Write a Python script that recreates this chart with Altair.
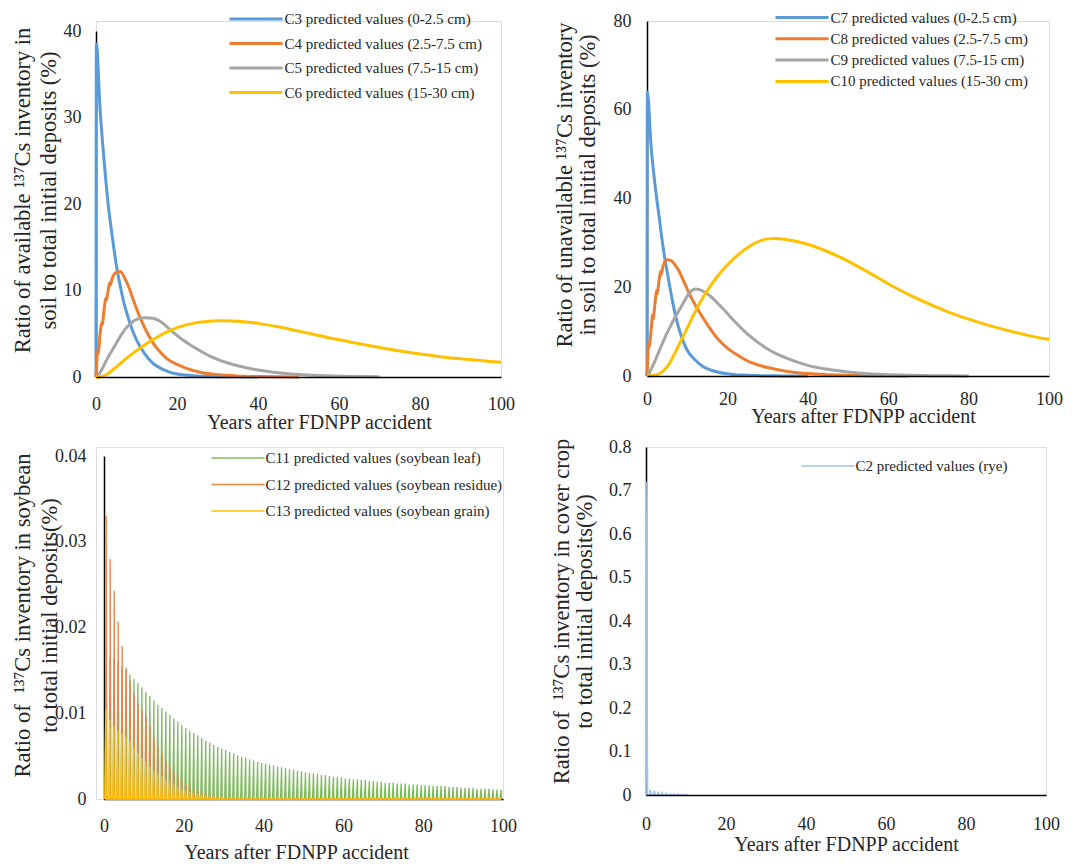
import altair as alt
import pandas as pd

FONT = "Liberation Serif"
TXT = "#262626"

# ---------------- data ----------------
years = [0, 0.1, 1, 2, 3, 4, 5, 6, 7, 8, 9, 10, 12, 14, 16, 18, 20, 22, 24, 26, 28, 30, 32, 35,
         40, 45, 50, 55, 60, 65, 70, 75, 80, 85, 90, 95, 100]

top_left_names = ["C3 predicted values (0-2.5 cm)", "C4 predicted values (2.5-7.5 cm)",
                  "C5 predicted values (7.5-15 cm)", "C6 predicted values (15-30 cm)"]
c3 = [0, 38.5, 31, 25, 20, 16.3, 13, 10.5, 8.4, 6.8, 5.4, 4.3,
      2.7, 1.6, 1.0, 0.6, 0.35, 0.22, 0.14, 0.09, 0.06, 0.04, 0.03, 0.02,
      0.01, None, None, None, None, None, None, None, None, None, None, None, None]
c4 = [0, 0.8, 4.9, 7.8, 10, 11.4, 12.1, 12.2, 11.5, 10.5, 9.2, 7.9,
      5.7, 4.0, 2.8, 1.95, 1.45, 1.05, 0.75, 0.52, 0.37, 0.27, 0.2, 0.12,
      0.05, 0.02, 0.01, None, None, None, None, None, None, None, None, None, None]
c5 = [0, 0, 0.5, 1.4, 2.3, 3.1, 3.9, 4.7, 5.4, 5.95, 6.35, 6.65,
      6.85, 6.8, 6.4, 5.6, 4.8, 4.1, 3.5, 2.95, 2.45, 2.05, 1.7, 1.3,
      0.8, 0.5, 0.3, 0.18, 0.1, 0.05, 0.02, None, None, None, None, None, None]
c6 = [0, 0, 0.02, 0.15, 0.4, 0.75, 1.15, 1.55, 1.95, 2.35, 2.7, 3.05,
      3.7, 4.3, 4.85, 5.3, 5.7, 6.0, 6.2, 6.35, 6.45, 6.5, 6.5, 6.45,
      6.2, 5.8, 5.3, 4.8, 4.3, 3.85, 3.4, 3.0, 2.65, 2.35, 2.1, 1.9, 1.7]
# seasonal ripples on the rising edge of C4 / C8 (half-year points)
ripple_t = [0.4, 0.5, 1.4, 1.5, 2.4, 2.5, 3.4, 3.5]
c4_ripple = [3.0, 2.7, 6.3, 6.0, 9.1, 8.8, 10.9, 10.6]

top_right_names = ["C7 predicted values (0-2.5 cm)", "C8 predicted values (2.5-7.5 cm)",
                   "C9 predicted values (7.5-15 cm)", "C10 predicted values (15-30 cm)"]
c7 = [0, 64, 52, 43, 36, 29, 23.5, 18.5, 14, 10.5, 7.8, 5.8,
      3.6, 2.1, 1.3, 0.8, 0.5, 0.3, 0.2, 0.12, 0.08, 0.05, 0.03, 0.02,
      0.01, None, None, None, None, None, None, None, None, None, None, None, None]
c8 = [0, 2, 10, 16.5, 21.5, 24.8, 26.2, 26, 25, 23.6, 21.6, 19.6,
      16, 13, 10.3, 8, 6.3, 5, 3.9, 3.0, 2.4, 1.9, 1.5, 1.0,
      0.55, 0.3, 0.15, 0.07, 0.03, 0.01, None, None, None, None, None, None, None]
c8_ripple = [7.5, 6.5, 13.8, 12.8, 19.3, 18.4, 23.6, 22.8]
c9 = [0, 0, 1.5, 3.4, 5.6, 7.7, 9.7, 11.5, 13.3, 14.8, 16.4, 18.0,
      19.6, 19.1, 17.8, 16.0, 14.1, 12.1, 10.3, 8.7, 7.3, 6.1, 5.1, 3.9,
      2.4, 1.5, 0.9, 0.5, 0.3, 0.15, 0.08, 0.04, 0.02, None, None, None, None]
c10 = [0, 0, 0.05, 0.2, 0.5, 1.1, 2.1, 3.5, 5.3, 7.1, 9.0, 10.8,
       14.5, 17.8, 20.6, 23.0, 25.0, 26.8, 28.3, 29.5, 30.4, 30.9, 31.0, 30.7,
       29.7, 28.0, 25.9, 23.4, 20.8, 18.4, 16.3, 14.4, 12.8, 11.4, 10.2, 9.1, 8.2]

# yearly peak values of the seasonal spikes (year 0, 1, 2, ...)
soy_names = ["C11 predicted values (soybean leaf)", "C12 predicted values (soybean residue)",
             "C13 predicted values (soybean grain)"]
c11_leaf = [0.0160, 0.0165, 0.0165, 0.0160, 0.0155, 0.0150, 0.0145, 0.0140, 0.0135, 0.0130,
            0.0125, 0.0120, 0.0115, 0.0110, 0.0106, 0.0102, 0.0098, 0.0094, 0.0090, 0.0086,
            0.0083, 0.0080, 0.0077, 0.0074, 0.0071, 0.0068, 0.0066, 0.0063, 0.0061, 0.0059,
            0.0057, 0.0055, 0.0053, 0.0051, 0.0049, 0.0048, 0.0046, 0.0045, 0.0043, 0.0042,
            0.0041, 0.0040, 0.0039, 0.0038, 0.0037, 0.0036, 0.0035, 0.0034, 0.0033, 0.0032,
            0.0031, 0.0030, 0.0030, 0.0029, 0.0028, 0.0028, 0.0027, 0.0026, 0.0026, 0.0025,
            0.0024, 0.0024, 0.0023, 0.0023, 0.0022, 0.0022, 0.0021, 0.0021, 0.0020, 0.0020,
            0.0019, 0.0019, 0.0019, 0.0018, 0.0018, 0.0018, 0.0017, 0.0017, 0.0017, 0.0016,
            0.0016, 0.0016, 0.0015, 0.0015, 0.0015, 0.0015, 0.0014, 0.0014, 0.0014, 0.0013,
            0.0013, 0.0013, 0.0013, 0.0012, 0.0012, 0.0012, 0.0012, 0.0011, 0.0011, 0.0011]
c12_residue = [0.033, 0.028, 0.0243, 0.0207, 0.0178, 0.0153, 0.0138, 0.0124, 0.0112, 0.0104,
               0.0097, 0.0085, 0.0073, 0.0062, 0.0053, 0.0045, 0.0038, 0.0032, 0.0027, 0.0022,
               0.0018, 0.0015, 0.0012, 0.0010, 0.0008, 0.0006, 0.0005, 0.0004, 0.0003, 0.0002,
               0.0001]
c13_grain = [0.0105, 0.0092, 0.0085, 0.0080, 0.0076, 0.0072, 0.0067, 0.0060, 0.0054, 0.0048,
             0.0043, 0.0038, 0.0033, 0.0029, 0.0026, 0.0022, 0.0019, 0.0017, 0.0014, 0.0012,
             0.0010, 0.0008, 0.0007, 0.0006, 0.0005, 0.0004, 0.0003, 0.0002, 0.0001, 0.0001]

rye_names = ["C2 predicted values (rye)"]
c2_rye = [0.72, 0.012, 0.009, 0.007, 0.005, 0.004, 0.003, 0.002, 0.0015, 0.001, 0.0005]

x_ticks = [0, 20, 40, 60, 80, 100]
y_ticks_tl = [0, 10, 20, 30, 40]
y_ticks_tr = [0, 20, 40, 60, 80]
y_ticks_bl = [0, 0.01, 0.02, 0.03, 0.04]
y_ticks_br = [0, 0.1, 0.2, 0.3, 0.4, 0.5, 0.6, 0.7, 0.8]

COL4 = ["#5B9BD5", "#ED7D31", "#A5A5A5", "#FFC000"]
COL_SOY = ["#7DBB5C", "#EE8240", "#FFC000"]
COL_RYE = ["#9DC3E6"]


def curves(x, names, series, extra=None):
    rows = []
    for name, vals in zip(names, series):
        for t, v in zip(x, vals):
            if v is not None:
                rows.append({"t": t, "v": v, "s": name})
    if extra:
        for name, ts, vs in extra:
            for t, v in zip(ts, vs):
                rows.append({"t": t, "v": v, "s": name})
    df = pd.DataFrame(rows)
    df["o"] = df["s"].map({n: i for i, n in enumerate(names)})
    return df.sort_values(["o", "t"]).reset_index(drop=True)


def spikes(name, peaks, rise, top, fall, n_years=100):
    rows = []
    for i in range(n_years):
        p = peaks[i] if i < len(peaks) else 0.0
        rows.append({"t": i + rise, "v": 0.0, "s": name})
        rows.append({"t": i + top, "v": p, "s": name})
        rows.append({"t": i + fall, "v": 0.0, "s": name})
    return rows


df_tl = curves(years, top_left_names, [c3, c4, c5, c6],
               extra=[(top_left_names[1], ripple_t, c4_ripple)])
df_tr = curves(years, top_right_names, [c7, c8, c9, c10],
               extra=[(top_right_names[1], ripple_t, c8_ripple)])
df_bl = pd.DataFrame(spikes(soy_names[0], c11_leaf, 0.25, 0.5, 0.62)
                     + spikes(soy_names[1], c12_residue, 0.5, 0.55, 0.7)
                     + spikes(soy_names[2], c13_grain, 0.2, 0.45, 0.52))
df_br = pd.DataFrame(spikes(rye_names[0], c2_rye, 0.0, 0.02, 0.4, n_years=len(c2_rye)))

LBL = "toString(datum.value)"


def panel(df, names, colors, W, H, xr, yr, ydom, yticks, ytitle, sw, interp,
          leg, xa, ya, box, xz, yoff=0):
    legend = alt.Legend(title=None, orient="none", legendX=leg[0], legendY=leg[1],
                        direction="vertical", symbolType="M-4,0H4", symbolSize=176,
                        symbolStrokeWidth=leg[3], labelFont=FONT, labelFontSize=15,
                        labelColor=TXT, labelOffset=20, rowPadding=leg[2],
                        labelLimit=600, padding=0)
    xaxis = alt.Axis(values=x_ticks, labelExpr=LBL, grid=False, ticks=False, tickSize=0,
                     domainColor="black", domainWidth=1.5, labelFont=FONT, labelFontSize=18,
                     labelColor=TXT, labelPadding=xa[0], labelBaseline="middle",
                     labelFlush=False, labelOverlap=False,
                     title="Years after FDNPP accident", titleFont=FONT, titleFontSize=20,
                     titleFontWeight="normal", titleColor=TXT, titleX=xa[1], titleY=xa[2],
                     titleBaseline="middle", zindex=xz)
    yaxis = alt.Axis(values=yticks, labelExpr=LBL, grid=False, ticks=False, tickSize=0,
                     domainColor="black", domainWidth=1.5, labelFont=FONT, labelFontSize=18,
                     labelColor=TXT, labelPadding=ya[0], labelFlush=False, labelOverlap=False,
                     title=ytitle, titleFont=FONT, titleFontSize=22.5, titleFontWeight="normal",
                     titleColor=TXT, titleX=ya[1], titleY=ya[2], titleLineHeight=ya[3],
                     titleBaseline="bottom", zindex=0, offset=yoff)
    lines = alt.Chart(df).mark_line(strokeWidth=sw, interpolate=interp).encode(
        x=alt.X("t:Q", scale=alt.Scale(domain=[0, 100], nice=False, zero=False, range=xr),
                axis=xaxis),
        y=alt.Y("v:Q", scale=alt.Scale(domain=ydom, nice=False, range=yr), axis=yaxis),
        color=alt.Color("s:N", scale=alt.Scale(domain=names, range=colors), legend=legend),
    )
    E, R, T, B = box
    frame = alt.Chart(pd.DataFrame({"k": [0]})).mark_rule(opacity=0, strokeWidth=0.1).encode(
        x=alt.value(-E), x2=alt.value(W + R), y=alt.value(-T), y2=alt.value(H + B))
    return alt.layer(lines, frame).properties(width=W, height=H)


NB = "\u00a0"
# group tops: row 1 at y=20, row 2 at y=446; column 0 group left at x=95
p1 = panel(df_tl, top_left_names, COL4, 405, 356, [0, 405], [356, 10], [0, 40], y_ticks_tl,
           ["Ratio of available ¹³⁷Cs inventory in", "soil to total initial deposits (%)"],
           3, "monotone", (151.5, -10.5, 7.5, 3), (27, 223, 45), (15, -62, 169, 26),
           (87, 16, 12, 56), 1)
p2 = panel(df_tr, top_right_names, COL4, 402, 355, [0, 402], [355, 0], [0, 80], y_ticks_tr,
           ["Ratio of unavailable ¹³⁷Cs inventory", "in soil to total initial deposits (%)"],
           3, "monotone", (146.5, -12, 4.3, 3), (23, 216, 40), (16, -70.5, 163.5, 23),
           (92, 15, 12, 57), 1)
p3 = panel(df_bl, soy_names, COL_SOY, 407, 352, [8, 407], [352, 9], [0, 0.04], y_ticks_bl,
           ["Ratio of" + NB + NB + "¹³⁷Cs inventory in soybean", "to total initial deposits(%)"],
           1.3, "linear", (134.5, 3.5, 10.5, 1.5), (27, 200, 53), (18, -69.5, 168, 27),
           (87, 16, 10, 64), 0, yoff=-8)
p4 = panel(df_br, rye_names, COL_RYE, 400, 348, [0, 400], [348, 0], [0, 0.8], y_ticks_br,
           ["Ratio of" + NB + NB + "¹³⁷Cs inventory in cover crop", "to total initial deposits(%)"],
           1.5, "linear", (174.5, 11.5, 5, 1.5), (29, 200, 49), (15, -72.5, 164, 23),
           (98, 16, 10, 68), 1)

row1 = alt.hconcat(p1, p2, spacing=34).resolve_scale(color="independent")
row2 = alt.hconcat(p3, p4, spacing=27).resolve_scale(color="independent")
chart = (alt.vconcat(row1, row2, spacing=2)
         .resolve_scale(color="independent")
         .properties(padding=0, background="white")
         .configure_view(stroke=None)
         .configure(font=FONT))

chart.save("out.html", embed_options={"renderer": "svg", "actions": False})
